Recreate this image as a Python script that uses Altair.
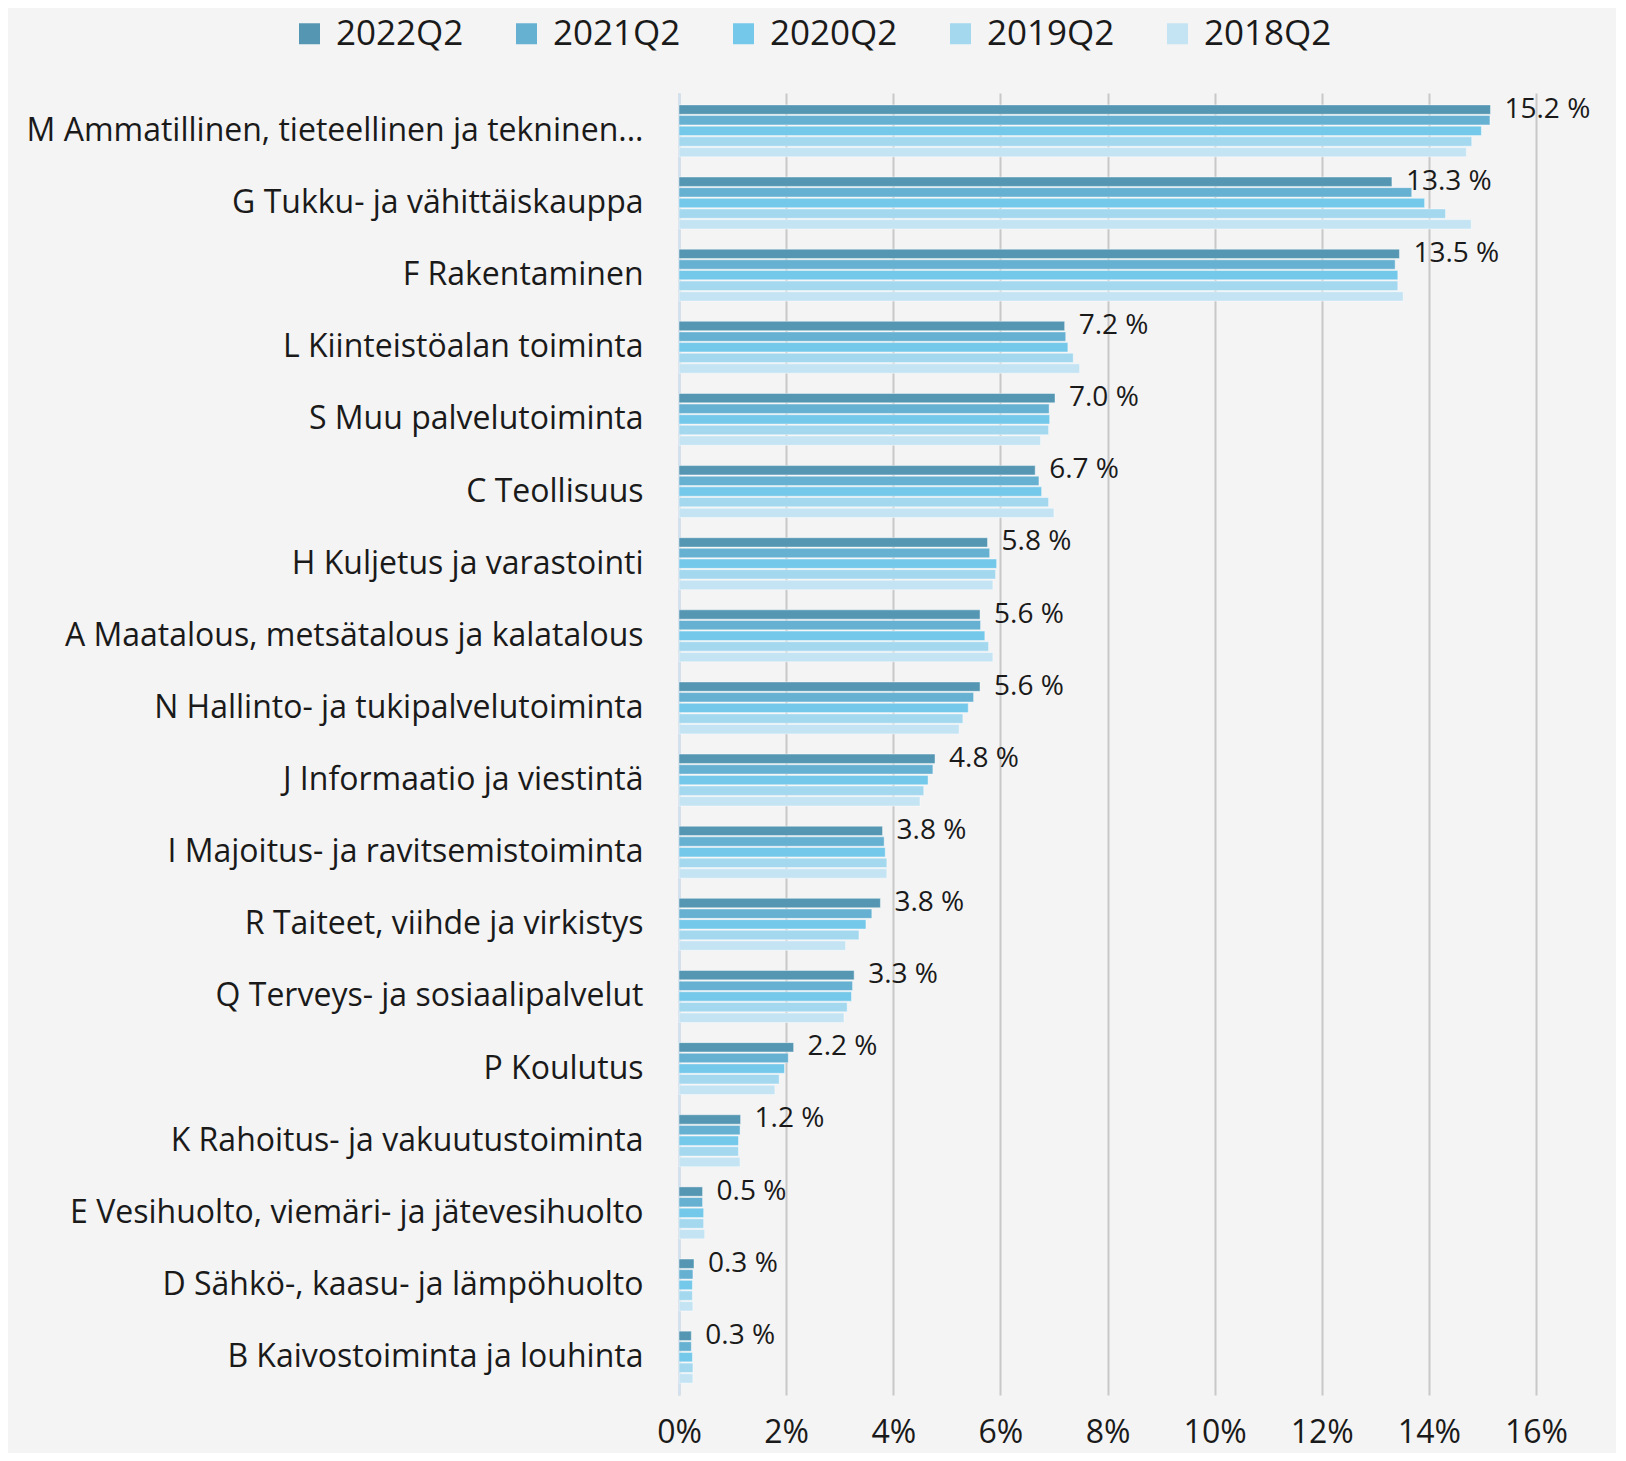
import altair as alt
import pandas as pd

categories = [
    "M Ammatillinen, tieteellinen ja tekninen...",
    "G Tukku- ja vähittäiskauppa",
    "F Rakentaminen",
    "L Kiinteistöalan toiminta",
    "S Muu palvelutoiminta",
    "C Teollisuus",
    "H Kuljetus ja varastointi",
    "A Maatalous, metsätalous ja kalatalous",
    "N Hallinto- ja tukipalvelutoiminta",
    "J Informaatio ja viestintä ",
    "I Majoitus- ja ravitsemistoiminta",
    "R Taiteet, viihde ja virkistys",
    "Q Terveys- ja sosiaalipalvelut",
    "P Koulutus",
    "K Rahoitus- ja vakuutustoiminta",
    "E Vesihuolto, viemäri- ja jätevesihuolto",
    "D Sähkö-, kaasu- ja lämpöhuolto",
    "B Kaivostoiminta ja louhinta",
]
series = ["2022Q2", "2021Q2", "2020Q2", "2019Q2", "2018Q2"]
v2022 = [15.15, 13.31, 13.45, 7.20, 7.02, 6.65, 5.76, 5.62, 5.62, 4.78, 3.80, 3.76, 3.27, 2.14, 1.15, 0.44, 0.28, 0.23]
v2021 = [15.14, 13.68, 13.37, 7.22, 6.91, 6.72, 5.80, 5.63, 5.50, 4.74, 3.83, 3.60, 3.24, 2.04, 1.14, 0.44, 0.26, 0.23]
v2020 = [14.98, 13.92, 13.42, 7.26, 6.92, 6.77, 5.93, 5.71, 5.40, 4.65, 3.85, 3.49, 3.22, 1.97, 1.11, 0.46, 0.25, 0.25]
v2019 = [14.80, 14.31, 13.42, 7.36, 6.90, 6.90, 5.91, 5.78, 5.30, 4.57, 3.88, 3.36, 3.14, 1.87, 1.11, 0.46, 0.25, 0.26]
v2018 = [14.70, 14.79, 13.52, 7.48, 6.75, 7.00, 5.86, 5.86, 5.23, 4.50, 3.88, 3.11, 3.08, 1.79, 1.14, 0.48, 0.26, 0.26]
labels_2022 = [15.2, 13.3, 13.5, 7.2, 7.0, 6.7, 5.8, 5.6, 5.6, 4.8, 3.8, 3.8, 3.3, 2.2, 1.2, 0.5, 0.3, 0.3]
colors = ["#5597b2", "#66b0d1", "#74c8ea", "#a3d8ef", "#c5e4f3"]
x_ticks = [0, 2, 4, 6, 8, 10, 12, 14, 16]

rows = []
for s, vals in zip(series, [v2022, v2021, v2020, v2019, v2018]):
    for c, v in zip(categories, vals):
        rows.append({"cat": c, "series": s, "value": v})
df = pd.DataFrame(rows)

lab_df = pd.DataFrame({"cat": categories, "value": v2022, "label": labels_2022, "series": "2022Q2"})

FONT = "Open Sans"
TXT = "#1a1a1a"

y_enc = alt.Y("cat:N", sort=categories, title=None,
              scale=alt.Scale(paddingInner=0.28, paddingOuter=0.165),
              axis=alt.Axis(labelFontSize=32, labelColor=TXT, labelPadding=36,
                            ticks=False, domainColor="#cfe2f3", domainWidth=2,
                            labelLimit=700, labelFont=FONT))
x_enc = alt.X("value:Q", title=None,
              scale=alt.Scale(domain=[0, 16], nice=False),
              axis=alt.Axis(values=x_ticks, labelExpr="datum.value + '%'",
                            labelFontSize=32, labelColor=TXT, labelPadding=22,
                            labelFlush=False,
                            ticks=False, domain=False, grid=True,
                            gridColor="#c8c8c8", gridWidth=2, labelFont=FONT))

bars = alt.Chart(df).mark_bar(stroke="#ffffff", strokeWidth=0.6, strokeOpacity=0.7).encode(
    y=y_enc,
    x=x_enc,
    yOffset=alt.YOffset("series:N", sort=series, scale=alt.Scale(paddingInner=0.12)),
    color=alt.Color("series:N", sort=series,
                    scale=alt.Scale(domain=series, range=colors),
                    legend=alt.Legend(title=None, orient="none", direction="horizontal",
                                      legendX=-387, legendY=-77, columns=5,
                                      symbolType="square", symbolSize=440,
                                      symbolStrokeWidth=0, labelFontSize=35,
                                      labelColor=TXT, labelFont=FONT,
                                      labelOffset=9, columnPadding=45)),
)

texts = alt.Chart(lab_df).transform_calculate(
    txt="format(datum.label, '.1f') + ' %'"
).mark_text(align="left", baseline="middle", dx=14, dy=0, fontSize=28,
            color=TXT, font=FONT).encode(
    y=alt.Y("cat:N", sort=categories),
    x=alt.X("value:Q"),
    yOffset=alt.YOffset("series:N", sort=series),
    text="txt:N",
)

chart = alt.layer(bars, texts).properties(
    width=857, height=1302,
    background="#f4f4f4",
    autosize=alt.AutoSizeParams(type="none"),
    padding={"left": 671, "top": 85, "right": 80, "bottom": 58},
).configure_view(stroke=None)

chart.save("out.html", embed_options={"renderer": "svg", "actions": False})
